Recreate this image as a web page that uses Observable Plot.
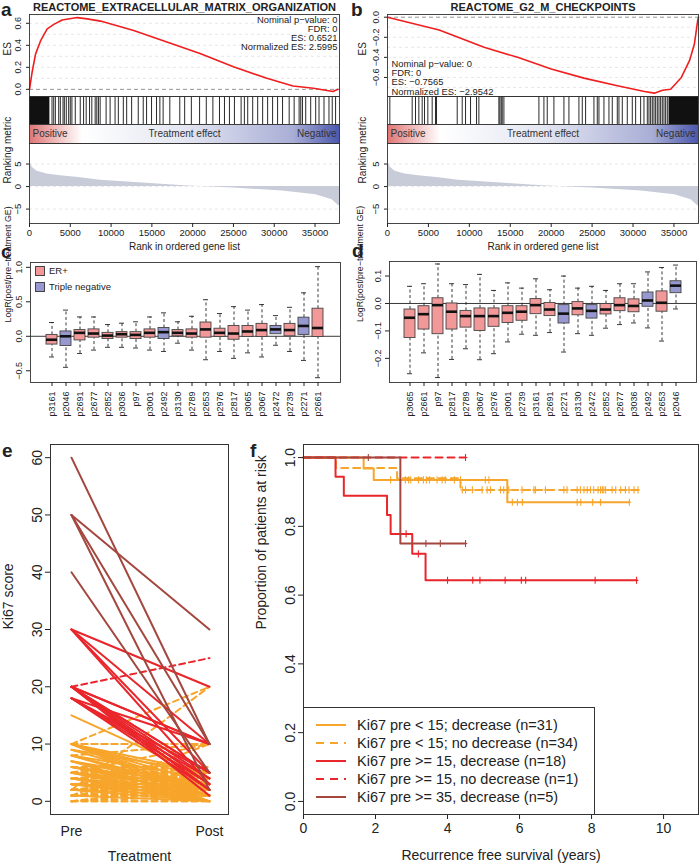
<!DOCTYPE html>
<html><head><meta charset="utf-8">
<script src="https://cdn.jsdelivr.net/npm/d3@7"></script>
<script src="https://cdn.jsdelivr.net/npm/@observablehq/plot@0.6"></script>
<style>
body{margin:0;background:#fff;}
#root{position:relative;width:700px;height:864px;overflow:hidden;background:#fff;font-family:"Liberation Sans",Arial,Helvetica,sans-serif;color:#222;}
.lab{position:absolute;font-weight:bold;font-size:19px;line-height:1;}
.abs{position:absolute;white-space:nowrap;}
</style></head><body><div id="root"></div>
<script>
// ---------------- DATA ----------------
// Panel a: running enrichment score (rank, ES)
const esRankA = [0, 330, 740, 1350, 2170, 2980, 4000, 5850, 7070, 8700, 12770, 16840, 20900, 25000, 29100, 32300, 34800, 37200, 37800];
const esValA  = [0, 0.16, 0.32, 0.44, 0.55, 0.59, 0.63, 0.652, 0.64, 0.62, 0.535, 0.43, 0.325, 0.205, 0.10, 0.03, 0.01, -0.02, 0.0];
// Panel b
const esRankB = [0, 6316, 11800, 15900, 20000, 24000, 28100, 31400, 32600, 33600, 34600, 35900, 36900, 37500, 37900, 38000];
const esValB  = [0, -0.127, -0.30, -0.40, -0.517, -0.607, -0.683, -0.74, -0.7565, -0.727, -0.717, -0.60, -0.433, -0.267, -0.033, 0];
// gene-set hits (ranks)
const hitsA = [2760, 2970, 3170, 3580, 3780, 4110, 4270, 4510, 4800, 5000, 5200, 5610, 6220, 6630, 6950, 7360, 7640, 8050, 8250, 8450, 8660, 9390, 9880, 10490, 10890, 11500, 11910, 12520, 13330, 13940, 14350, 14960, 15570, 15980, 16380, 17200, 18420, 19020, 19840, 20850, 21670, 22480, 23290, 23900, 24510, 25120, 25940, 26340, 26750, 27360, 27970, 28580, 29190, 29800, 30410, 31020, 31830, 32440, 33050, 33250, 33460, 33860, 34470, 35080, 35490, 36100, 36710, 37110, 37520];
const denseStartA = [0], denseEndA = [2500];
const hitsB = [285, 3015, 3423, 3830, 4238, 4523, 4931, 5460, 5868, 5990, 8517, 9128, 9535, 10147, 10880, 11165, 13610, 13733, 13896, 14018, 14222, 18500, 19112, 19519, 20334, 21557, 22168, 23391, 23798, 24206, 25224, 25632, 25835, 26447, 27058, 27465, 28077, 28280, 28688, 29299, 29910, 30318, 30929, 31337, 31744, 31948, 32152, 32355, 32559, 32763, 32967, 33170, 33374, 33578, 33782, 33985, 34189];
const denseStartB = [34400], denseEndB = [38000];
// ranking metric
const rmRank = [0, 330, 935, 2150, 3800, 6000, 8700, 14800, 18900, 25000, 31000, 35100, 37100, 37800, 38000];
const rmVal  = [5.7, 4.3, 3.4, 2.8, 2.4, 2.0, 1.4, 0.7, 0.2, -0.3, -1.0, -1.8, -2.9, -4.1, -4.3];
const rankTicks = [0, 5000, 10000, 15000, 20000, 25000, 30000, 35000];
const titleA = "REACTOME_EXTRACELLULAR_MATRIX_ORGANIZATION";
const titleB = "REACTOME_G2_M_CHECKPOINTS";
const annotA = ["Nominal p\u2212value: 0", "FDR: 0", "ES: 0.6521", "Normalized ES: 2.5995"];
const annotB = ["Nominal p\u2212value: 0", "FDR: 0", "ES: \u22120.7565", "Normalized ES: \u22122.9542"];
const gradOffsets = [0, 0.17, 0.5, 0.85, 1];
const gradColors = ["#E07676", "#FFFFFF", "#E4E6F1", "#A9AED6", "#4B57AC"];

// Panel c boxplots
const namesC = ["p3161","p2046","p2691","p2677","p2852","p3036","p97","p3001","p2492","p3130","p2789","p2653","p2976","p2817","p3065","p3067","p2472","p2739","p2271","p2661"];
const groupC = ["ER+","Triple negative","ER+","ER+","ER+","ER+","ER+","ER+","Triple negative","ER+","ER+","ER+","ER+","ER+","ER+","ER+","Triple negative","ER+","Triple negative","ER+"];
const loC  = [-0.30,-0.45,-0.25,-0.20,-0.16,-0.16,-0.17,-0.20,-0.22,-0.10,-0.20,-0.34,-0.22,-0.32,-0.24,-0.30,-0.13,-0.22,-0.35,-0.60];
const q1C  = [-0.12,-0.14,-0.06,-0.02,-0.04,-0.02,-0.04,-0.02,-0.04,0.00,-0.02,-0.02,-0.01,-0.05,-0.01,-0.01,0.03,0.00,0.02,-0.01];
const medC = [-0.05,0.00,0.05,0.04,0.01,0.03,0.02,0.05,0.06,0.05,0.04,0.10,0.05,0.04,0.07,0.09,0.10,0.09,0.15,0.12];
const q3C  = [0.02,0.07,0.09,0.10,0.05,0.06,0.06,0.10,0.12,0.09,0.10,0.20,0.11,0.15,0.15,0.18,0.15,0.18,0.27,0.40];
const hiC  = [0.20,0.38,0.28,0.28,0.17,0.19,0.21,0.28,0.34,0.21,0.29,0.53,0.33,0.43,0.38,0.46,0.30,0.42,0.63,1.01];
// Panel d boxplots
const namesD = ["p3065","p2661","p97","p2817","p2789","p3067","p2976","p3001","p2739","p3161","p2691","p2271","p3130","p2472","p2852","p2677","p3036","p2492","p2653","p2046"];
const groupD = ["ER+","ER+","ER+","ER+","ER+","ER+","ER+","ER+","ER+","ER+","ER+","Triple negative","ER+","Triple negative","ER+","ER+","ER+","Triple negative","ER+","Triple negative"];
const loD  = [-0.256,-0.18,-0.27,-0.204,-0.165,-0.205,-0.183,-0.14,-0.112,-0.116,-0.106,-0.177,-0.11,-0.116,-0.09,-0.077,-0.071,-0.089,-0.137,-0.02];
const q1D  = [-0.126,-0.095,-0.112,-0.095,-0.088,-0.10,-0.085,-0.071,-0.063,-0.039,-0.046,-0.073,-0.043,-0.055,-0.04,-0.028,-0.032,-0.012,-0.03,0.0375];
const medD = [-0.052,-0.039,-0.006,-0.03,-0.046,-0.046,-0.046,-0.034,-0.03,-0.006,-0.022,-0.037,-0.018,-0.027,-0.022,-0.006,-0.009,0.011,0.0025,0.065];
const q3D  = [-0.022,-0.01,0.019,0.0,-0.027,-0.018,-0.018,-0.01,-0.01,0.016,0.002,-0.006,0.005,-0.006,-0.002,0.019,0.015,0.04,0.044,0.081];
const hiD  = [0.0625,0.072,0.144,0.072,0.069,0.106,0.0475,0.075,0.056,0.09,0.05,0.10,0.056,0.0625,0.0475,0.072,0.072,0.115,0.131,0.14];
const boxGroups = ["ER+", "Triple negative"];
const boxColors = ["#F39898", "#9898D0"];

// Panel e: Ki67 pre / post
const ki67Pre = [
  15,10,10,10,10,10,10,9,9,8,8,8,7,7,7,6,6,6,5,5,5,5,4,4,4,3,3,3,2,2,1,
  10,2,10,10,5,1,0,0,0,1,1,1,2,2,2,3,3,4,5,5,0,1,2,3,4,5,6,0,1,2,8,3,4,2,
  30,30,30,30,20,20,20,20,20,20,20,18,18,18,18,20,18,20,
  20,
  60,50,50,50,40];
const ki67Post = [
  4,5,4,3,2,1,0,5,2,4,2,1,3,2,0,3,2,1,3,2,1,0,2,1,0,2,1,0,1,0,0,
  20,20,10,10,10,10,0,1,2,1,2,3,2,3,5,3,5,5,5,6,0,1,4,4,4,5,6,3,5,3,10,3,6,2,
  20,10,5,3,10,10,5,4,3,2,1,10,5,4,2,5,3,2,
  25,
  10,30,10,2,5];
const ki67Group = [].concat(
  Array(31).fill("lo_dec"), Array(34).fill("lo_nodec"), Array(18).fill("hi_dec"), Array(1).fill("hi_nodec"), Array(5).fill("vhi_dec"));
const groupCodes = ["lo_dec", "lo_nodec", "hi_dec", "hi_nodec", "vhi_dec"];
const groupColors = ["#F7A52B", "#F7A52B", "#E9262B", "#E9262B", "#A3473F"];
const groupDashed = [false, true, false, true, false];
const groupLabels = ["Ki67 pre < 15; decrease (n=31)", "Ki67 pre < 15; no decrease (n=34)", "Ki67 pre >= 15, decrease (n=18)", "Ki67 pre >= 15, no decrease (n=1)", "Ki67 pre >= 35, decrease (n=5)"];
const eTickLabels = ["Pre", "Post"];

// Panel f: Kaplan-Meier steps (time in years, survival) and censor times
const kmTime = {
  lo_dec:   [0, 1.67, 1.95, 5.66, 9.05],
  lo_nodec: [0, 0.9, 2.6, 4.36, 9.3],
  hi_dec:   [0, 0.89, 1.12, 2.32, 2.42, 3.02, 3.39, 9.25],
  hi_nodec: [0, 4.5],
  vhi_dec:  [0, 2.69, 4.5]
};
const kmSurv = {
  lo_dec:   [1, 0.968, 0.935, 0.87, 0.87],
  lo_nodec: [1, 0.97, 0.94, 0.906, 0.906],
  hi_dec:   [1, 0.944, 0.889, 0.833, 0.778, 0.72, 0.643, 0.643],
  hi_nodec: [1, 1],
  vhi_dec:  [1, 0.75, 0.75]
};
const kmCensor = {
  lo_dec:   [2.42, 2.83, 2.92, 2.98, 3.19, 3.33, 3.41, 3.5, 3.71, 3.85, 3.94, 4.19, 4.36, 5.05, 5.15, 5.8, 5.94, 6.08, 7.6, 7.7, 8.03, 8.25, 9.05],
  lo_nodec: [4.41, 4.5, 4.69, 4.96, 5.1, 5.19, 5.47, 5.56, 5.7, 6.07, 6.4, 6.44, 6.72, 7.23, 7.32, 7.6, 7.69, 7.79, 7.88, 7.97, 8.06, 8.18, 8.25, 8.3, 8.34, 8.39, 8.57, 8.67, 8.81, 8.94, 9.04, 9.18, 9.29],
  hi_dec:   [2.85, 3.19, 4.0, 4.7, 4.9, 5.6, 6.05, 6.17, 8.1, 9.25],
  hi_nodec: [4.5],
  vhi_dec:  [1.8, 3.4, 3.8, 4.5]
};
const kmDrawOrder = ["lo_nodec", "lo_dec", "hi_nodec", "hi_dec", "vhi_dec"];
const fXTicks = [0, 2, 4, 6, 8, 10];
const fYTicks = [0, 0.2, 0.4, 0.6, 0.8, 1.0];

// ---------------- HELPERS ----------------
const FONT = '"Liberation Sans", Arial, Helvetica, sans-serif';
const root = document.getElementById("root");
function place(node, left, top) {
  node.style.position = "absolute"; node.style.left = left + "px"; node.style.top = top + "px";
  root.appendChild(node);
}
function st(fs) { return {fontFamily: FONT, fontSize: fs + "px", background: "transparent", overflow: "visible", color: "#222"}; }
function label(txt, left, top) { const d = document.createElement("div"); d.className = "lab"; d.textContent = txt; d.style.left = left + "px"; d.style.top = top + "px"; root.appendChild(d); }
const fmt1 = d3.format(".1f");

function gsea(o) {
  const xDom = [0, 38000];
  const es = o.esRank.map((r, i) => ({r, v: o.esVal[i]}));
  const p1 = Plot.plot({
    width: o.width, height: 96, marginLeft: o.mL, marginRight: o.mR, marginTop: 14, marginBottom: 0,
    style: st(9),
    x: {domain: xDom, axis: null},
    y: {domain: o.esDomain, axis: null},
    marks: [
      Plot.ruleY(o.esGrid, {stroke: "#dcdcdc", strokeDasharray: "3,3", strokeWidth: 0.7}),
      Plot.ruleY([0], {stroke: "#8a8a8a", strokeDasharray: "4,3", strokeWidth: 0.9}),
      Plot.line(es, {x: "r", y: "v", stroke: "#F01E1E", strokeWidth: 1.6}),
      Plot.frame({stroke: "#333", strokeWidth: 0.9}),
      Plot.axisY({ticks: o.esTicks, tickRotate: -90, tickSize: 3, tickFormat: fmt1, label: null, fontSize: 9}),
      Plot.text(["ES"], {text: d => d, frameAnchor: "left", dx: o.labX - o.mL, rotate: -90, fontSize: 10}),
      Plot.text([o.title], {text: d => d, frameAnchor: "top", dy: -7, lineAnchor: "middle", fontWeight: "bold", fontSize: 11}),
      Plot.text([o.annot.join("\n")], {text: d => d, frameAnchor: o.annotAnchor, dx: o.annotDx, dy: o.annotDy,
        textAnchor: o.annotTextAnchor, lineAnchor: o.annotLineAnchor, lineHeight: 0.97, fontSize: 9.4, fill: "#222"})
    ]
  });
  place(p1, o.left, 0);
  const dense = o.denseS.map((s, i) => ({s, e: o.denseE[i]}));
  const p2 = Plot.plot({
    width: o.width, height: 28, marginLeft: o.mL, marginRight: o.mR, marginTop: 0, marginBottom: 0,
    style: st(9),
    x: {domain: xDom, axis: null},
    marks: [
      Plot.rect(dense, {x1: "s", x2: "e", fill: "#111"}),
      Plot.ruleX(o.hits, {x: d => d, stroke: "#111", strokeWidth: 0.9}),
      Plot.frame({stroke: "#333", strokeWidth: 0.9})
    ]
  });
  place(p2, o.left, 96);
  const defs = () => {
    const g = d3.create("svg:defs");
    const lg = g.append("linearGradient").attr("id", o.gradId).attr("x1", "0%").attr("x2", "100%");
    gradOffsets.forEach((off, i) => lg.append("stop").attr("offset", off).attr("stop-color", gradColors[i]));
    return g.node();
  };
  const p3 = Plot.plot({
    width: o.width, height: 19, marginLeft: o.mL, marginRight: o.mR, marginTop: 0, marginBottom: 0,
    style: st(10),
    marks: [
      defs,
      Plot.frame({fill: `url(#${o.gradId})`, stroke: "#333", strokeWidth: 0.9}),
      Plot.text(["Positive"], {text: d => d, frameAnchor: "left", dx: 3, textAnchor: "start", fontSize: 10, fill: "#333"}),
      Plot.text(["Treatment effect"], {text: d => d, frameAnchor: "middle", fontSize: 10, fill: "#333"}),
      Plot.text(["Negative"], {text: d => d, frameAnchor: "right", dx: -3, textAnchor: "end", fontSize: 10, fill: "#333"})
    ]
  });
  place(p3, o.left, 124);
  const rm = rmRank.map((r, i) => ({r, v: rmVal[i]}));
  const p4 = Plot.plot({
    width: o.width, height: 112, marginLeft: o.mL, marginRight: o.mR, marginTop: 0, marginBottom: 32,
    style: st(9.5),
    x: {domain: xDom, axis: null},
    y: {domain: [-8.2, 9.56], axis: null},
    marks: [
      Plot.ruleY([-5, 0, 5], {stroke: "#dcdcdc", strokeDasharray: "3,3", strokeWidth: 0.7}),
      Plot.areaY(rm, {x: "r", y: "v", fill: "#C8CCD9"}),
      Plot.frame({stroke: "#333", strokeWidth: 0.9}),
      Plot.axisX({ticks: rankTicks, tickSize: 4, tickPadding: 2, tickFormat: d => String(d), label: null, fontSize: 9.5}),
      Plot.axisY({ticks: [-5, 0, 5], tickRotate: -90, tickSize: 3, tickFormat: d3.format("d"), label: null, fontSize: 9.5}),
      Plot.text(["Ranking metric"], {text: d => d, frameAnchor: "left", dx: o.labX - o.mL, rotate: -90, fontSize: 10}),
      Plot.text(["Rank in ordered gene list"], {text: d => d, frameAnchor: "bottom", dy: 23, lineAnchor: "middle", fontSize: 10})
    ]
  });
  place(p4, o.left, 143);
}

gsea({left: 0, width: 345, mL: 29, mR: 6, labX: 7, esRank: esRankA, esVal: esValA, esDomain: [-0.065, 0.68],
  esTicks: [0, 0.2, 0.4, 0.6], esGrid: [0.1, 0.2, 0.3, 0.4, 0.5, 0.6], title: titleA, annot: annotA,
  annotAnchor: "top-right", annotDx: -2, annotDy: 2, annotTextAnchor: "end", annotLineAnchor: "top",
  hits: hitsA, denseS: denseStartA, denseE: denseEndA, gradId: "gradA"});
gsea({left: 350, width: 350, mL: 37, mR: 2, labX: 12, esRank: esRankB, esVal: esValB, esDomain: [-0.79, 0.027],
  esTicks: [0, -0.2, -0.4, -0.6], esGrid: [-0.1, -0.2, -0.3, -0.4, -0.5, -0.6, -0.7], title: titleB, annot: annotB,
  annotAnchor: "bottom-left", annotDx: 4, annotDy: -2, annotTextAnchor: "start", annotLineAnchor: "bottom",
  hits: hitsB, denseS: denseStartB, denseE: denseEndB, gradId: "gradB"});

function boxPanel(o) {
  const data = o.names.map((n, i) => ({name: n, g: o.groups[i], lo: o.lo[i], q1: o.q1[i], med: o.med[i], q3: o.q3[i], hi: o.hi[i]}));
  const p = Plot.plot({
    width: o.width, height: 7 + o.fh + 45, marginLeft: o.mL, marginRight: o.mR, marginTop: 7, marginBottom: 45,
    style: st(9),
    x: {type: "band", domain: o.names, paddingInner: 0.2, paddingOuter: 0.86, axis: null},
    y: {domain: o.yDomain, axis: null},
    color: {domain: boxGroups, range: boxColors},
    marks: [
      Plot.ruleX(data, {x: "name", y1: "q3", y2: "hi", stroke: "#222", strokeWidth: 0.9, strokeDasharray: "3,2.5"}),
      Plot.ruleX(data, {x: "name", y1: "lo", y2: "q1", stroke: "#222", strokeWidth: 0.9, strokeDasharray: "3,2.5"}),
      Plot.tickY(data, {x: "name", y: "hi", stroke: "#222", strokeWidth: 0.9, insetLeft: 3, insetRight: 3}),
      Plot.tickY(data, {x: "name", y: "lo", stroke: "#222", strokeWidth: 0.9, insetLeft: 3, insetRight: 3}),
      Plot.ruleY([0], {stroke: "#222", strokeWidth: 0.9}),
      Plot.barY(data, {x: "name", y1: "q1", y2: "q3", fill: "g", stroke: "#444", strokeWidth: 0.9}),
      Plot.tickY(data, {x: "name", y: "med", stroke: "#111", strokeWidth: 2.6}),
      Plot.frame({stroke: "#333", strokeWidth: 0.9}),
      Plot.axisX({tickRotate: -90, tickSize: 4, label: null, fontSize: 9}),
      Plot.axisY({ticks: o.yTicks, tickRotate: -90, tickSize: 4, tickFormat: fmt1, label: null, fontSize: 9}),
      Plot.text(["LogR(post/pre\u2212treatment GE)"], {text: d => d, frameAnchor: "left", dx: o.labDx, rotate: -90, fontSize: 8.8})
    ]
  });
  place(p, o.left, o.top);
}
boxPanel({left: 0, top: 255, width: 345, mL: 30, mR: 5, fh: 120, names: namesC, groups: groupC, lo: loC, q1: q1C, med: medC, q3: q3C, hi: hiC,
  yDomain: [-0.67, 1.07], yTicks: [-0.5, 0, 0.5, 1.0], labDx: -22});
boxPanel({left: 350, top: 254, width: 350, mL: 39, mR: 4, fh: 121, names: namesD, groups: groupD, lo: loD, q1: q1D, med: medD, q3: q3D, hi: hiD,
  yDomain: [-0.288, 0.153], yTicks: [-0.2, -0.1, 0, 0.1], labDx: -29});

// legend for c
boxGroups.forEach((g, i) => {
  const sq = document.createElement("div");
  sq.className = "abs";
  Object.assign(sq.style, {left: "35px", top: (266 + i * 16) + "px", width: "10px", height: "10px", background: boxColors[i], border: "1px solid #444", boxSizing: "border-box"});
  root.appendChild(sq);
  const t = document.createElement("div");
  t.className = "abs"; t.textContent = g;
  Object.assign(t.style, {left: "49px", top: (265 + i * 16) + "px", fontSize: "9.5px", lineHeight: "12px"});
  root.appendChild(t);
});

// Panel e
const eData = ki67Pre.flatMap((p, i) => [{id: i, t: 1, v: p, g: ki67Group[i]}, {id: i, t: 2, v: ki67Post[i], g: ki67Group[i]}]);
const eOrder = ["lo_nodec", "lo_dec", "hi_dec", "hi_nodec", "vhi_dec"];
const eP = Plot.plot({
  width: 240, height: 434, marginLeft: 50, marginRight: 12, marginTop: 14, marginBottom: 50,
  style: st(14),
  x: {domain: [0.848, 2.138], axis: null},
  y: {domain: [-2.3, 62.3], axis: null},
  color: {domain: groupCodes, range: groupColors},
  marks: [
    ...eOrder.map(g => Plot.line(eData.filter(d => d.g === g), {x: "t", y: "v", z: "id", stroke: "g", strokeWidth: 2,
      ...(groupDashed[groupCodes.indexOf(g)] ? {strokeDasharray: "6,4"} : {})})),
    Plot.frame({stroke: "#333", strokeWidth: 1}),
    Plot.axisY({ticks: [0, 10, 20, 30, 40, 50, 60], tickRotate: -90, tickSize: 5, label: null, fontSize: 14}),
    Plot.axisX({ticks: [1, 2], tickSize: 0, tickPadding: 12, tickFormat: d => eTickLabels[d - 1], label: null, fontSize: 14}),
    Plot.text(["Ki67 score"], {text: d => d, frameAnchor: "left", dx: -42, rotate: -90, fontSize: 14}),
    Plot.text(["Treatment"], {text: d => d, frameAnchor: "bottom", dy: 42, lineAnchor: "middle", fontSize: 14})
  ]
});
place(eP, 0, 430);

// Panel f
function stepAt(times, surv, t) { let s = surv[0]; for (let i = 0; i < times.length; i++) if (times[i] <= t) s = surv[i]; return s; }
const plusSym = {draw(ctx, size) { const r = Math.sqrt(size) / 2; ctx.moveTo(0, -r); ctx.lineTo(0, r); ctx.moveTo(-r * 0.5, 0); ctx.lineTo(r * 0.5, 0); }};
const fMarks = [];
kmDrawOrder.forEach(g => {
  const k = groupCodes.indexOf(g);
  const steps = kmTime[g].map((t, i) => ({t, s: kmSurv[g][i], g}));
  const cens = kmCensor[g].map(t => ({t, s: stepAt(kmTime[g], kmSurv[g], t), g}));
  fMarks.push(Plot.line(steps, {x: "t", y: "s", stroke: "g", curve: "step-after", strokeWidth: 2,
    ...(groupDashed[k] ? {strokeDasharray: "7,5"} : {})}));
  fMarks.push(Plot.dot(cens, {x: "t", y: "s", stroke: "g", symbol: plusSym, r: 4, strokeWidth: 1.1, fill: "none"}));
});
const fP = Plot.plot({
  width: 460, height: 434, marginLeft: 63, marginRight: 2, marginTop: 14, marginBottom: 50,
  style: st(14),
  x: {domain: [0, 10.97], axis: null},
  y: {domain: [-0.038, 1.038], axis: null},
  color: {domain: groupCodes, range: groupColors},
  marks: [
    ...fMarks,
    Plot.frame({stroke: "#333", strokeWidth: 1}),
    Plot.axisX({ticks: fXTicks, tickSize: 5, label: null, fontSize: 14}),
    Plot.axisY({ticks: fYTicks, tickRotate: -90, tickSize: 5, tickFormat: fmt1, label: null, fontSize: 14}),
    Plot.text(["Proportion of patients at risk"], {text: d => d, frameAnchor: "left", dx: -42, rotate: -90, fontSize: 14}),
    Plot.text(["Recurrence free survival (years)"], {text: d => d, frameAnchor: "bottom", dy: 41, lineAnchor: "middle", fontSize: 14})
  ]
});
place(fP, 240, 430);

// legend for f
const leg = document.createElement("div");
leg.className = "abs";
Object.assign(leg.style, {left: "303px", top: "707px", width: "292px", height: "108px", border: "1px solid #333", background: "#fff", boxSizing: "border-box"});
root.appendChild(leg);
groupCodes.forEach((g, i) => {
  const y = 17 + i * 18;
  const svg = d3.create("svg").attr("width", 32).attr("height", 6);
  svg.append("line").attr("x1", 0).attr("x2", 30).attr("y1", 3).attr("y2", 3).attr("stroke", groupColors[i]).attr("stroke-width", 2)
    .attr("stroke-dasharray", groupDashed[i] ? "8,6" : null);
  const s = svg.node();
  Object.assign(s.style, {position: "absolute", left: "12px", top: (y - 3) + "px"});
  leg.appendChild(s);
  const t = document.createElement("div");
  t.className = "abs"; t.textContent = groupLabels[i];
  Object.assign(t.style, {left: "53px", top: (y - 9) + "px", fontSize: "14.5px", lineHeight: "18px"});
  leg.appendChild(t);
});

label("a", 1, 0); label("b", 351, 0); label("c", 1, 242); label("d", 352, 241); label("e", 2, 441); label("f", 250, 441);
</script></body></html>
